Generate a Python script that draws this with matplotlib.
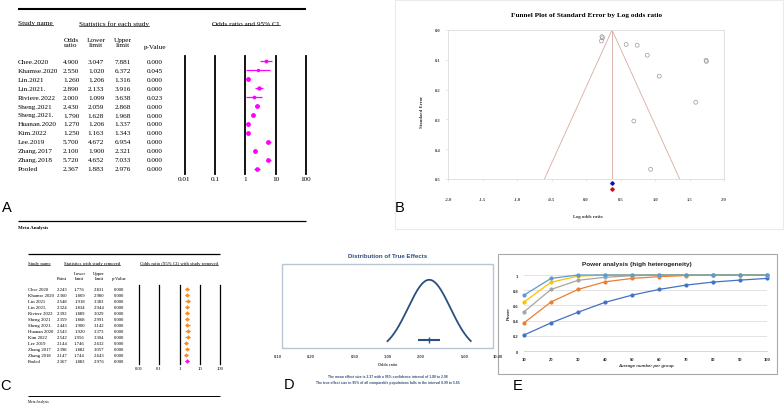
import numpy as np
import matplotlib
matplotlib.use('Agg')
import matplotlib.pyplot as plt
from matplotlib.patches import Rectangle
from matplotlib.ticker import NullLocator

W, H = 784, 406
SERIF = ['Liberation Serif', 'DejaVu Serif']
SANS = ['Liberation Sans', 'DejaVu Sans']

# ---------------- Data: panel A (forest plot) ----------------
studies = ["Chee.2020", "Khamse.2020", "Lin.2021", "Lin.2021.", "Riviere.2022", "Sheng.2021",
           "Sheng.2021.", "Huanan.2020", "Kim.2022", "Lee.2019", "Zhang.2017", "Zhang.2018", "Pooled"]
odds = [4.900, 2.550, 1.260, 2.890, 2.000, 2.430, 1.790, 1.270, 1.250, 5.700, 2.100, 5.720, 2.367]
lower = [3.047, 1.020, 1.206, 2.133, 1.099, 2.059, 1.628, 1.206, 1.163, 4.672, 1.900, 4.652, 1.883]
upper = [7.881, 6.372, 1.316, 3.916, 3.638, 2.868, 1.968, 1.337, 1.343, 6.954, 2.321, 7.033, 2.976]
pvals = ["0.000", "0.045", "0.000", "0.000", "0.023", "0.000", "0.000", "0.000", "0.000",
         "0.000", "0.000", "0.000", "0.000"]
forest_ticks = [0.01, 0.1, 1, 10, 100]
forest_tick_labels = ["0.01", "0.1", "1", "10", "100"]

# ---------------- Data: panel C (leave-one-out) ----------------
loo_studies = ["Chee 2020", "Khamse 2020", "Lin 2021", "Lin 2021.", "Riviere 2022", "Sheng 2021",
               "Sheng 2021.", "Huanan 2020", "Kim 2022", "Lee 2019", "Zhang 2017", "Zhang 2018", "Pooled"]
loo_point = [2.243, 2.360, 2.548, 2.324, 2.392, 2.359, 2.443, 2.543, 2.542, 2.144, 2.398, 2.147, 2.367]
loo_lower = [1.776, 1.869, 1.918, 1.834, 1.889, 1.868, 1.900, 1.920, 1.956, 1.746, 1.882, 1.744, 1.883]
loo_upper = [2.831, 2.980, 3.383, 2.944, 3.029, 2.991, 3.142, 3.373, 3.304, 2.632, 3.057, 2.643, 2.976]
loo_p = ["0.000"] * 13

# ---------------- Data: panel B (funnel) ----------------
funnel_xticks = [-2.0, -1.5, -1.0, -0.5, 0.0, 0.5, 1.0, 1.5, 2.0]
funnel_yticks = [0.0, 0.1, 0.2, 0.3, 0.4, 0.5]

# ---------------- Data: panel D (true effects) ----------------
mean_es = 2.37
ci_lo, ci_hi = 1.88, 2.98
pi_lo, pi_hi = 0.99, 5.65
d_ticks = [0.1, 0.2, 0.5, 1, 2, 5, 10]
d_tick_labels = ["0.10", "0.20", "0.50", "1.00", "2.00", "5.00", "10.00"]

# ---------------- Data: panel E (power) ----------------
n_group = [10, 20, 30, 40, 50, 60, 70, 80, 90, 100]
power_1 = [0.21, 0.37, 0.51, 0.64, 0.735, 0.81, 0.867, 0.907, 0.933, 0.955]
power_2 = [0.37, 0.645, 0.81, 0.91, 0.955, 0.978, 0.993, 1.0, 1.0, 1.0]
power_3 = [0.515, 0.81, 0.93, 0.97, 0.99, 1.0, 1.0, 1.0, 1.0, 1.0]
power_4 = [0.645, 0.905, 0.985, 1.0, 1.0, 1.0, 1.0, 1.0, 1.0, 1.0]
power_5 = [0.735, 0.955, 1.0, 1.0, 1.0, 1.0, 1.0, 1.0, 1.0, 1.0]
power_colors = ['#4472C4', '#ED7D31', '#A5A5A5', '#FFC000', '#5B9BD5']
e_yticks = [0, 0.2, 0.4, 0.6, 0.8, 1.0]
e_ytick_labels = ["0", "0.2", "0.4", "0.6", "0.8", "1"]

# =====================================================================
fig = plt.figure(figsize=(W / 100, H / 100), dpi=100)
fig.patch.set_facecolor('white')
lay = fig.add_axes([0, 0, 1, 1])
lay.set_xlim(0, W)
lay.set_ylim(H, 0)
lay.axis('off')


def pxax(x0, y0, x1, y1):
    ax = fig.add_axes([x0 / W, 1 - y1 / H, (x1 - x0) / W, (y1 - y0) / H])
    ax.patch.set_alpha(0)
    return ax


underlined = []

# ---------------------------- Panel A ----------------------------
fsA = 5.2
lay.plot([18, 306], [10, 10], color='black', lw=1.5, solid_capstyle='butt')
underlined.append(lay.text(18, 24, "Study name", fontsize=fsA, family=SERIF, va='center', ha='left'))
underlined.append(lay.text(114, 24, "Statistics for each study", fontsize=fsA, family=SERIF, va='center', ha='center'))
underlined.append(lay.text(246, 24, "Odds ratio and 95% CI", fontsize=fsA, family=SERIF, va='center', ha='center'))
colsA = [71, 96, 123, 155]
for cx, lab, yy in zip(colsA, ["Odds\nratio", "Lower\nlimit", "Upper\nlimit", "p-Value"], [43, 43, 43, 47]):
    lay.text(cx, yy, lab, fontsize=fsA, family=SERIF, va='center', ha='center')

yl_A = (12.556, -0.556)
tA = pxax(0, 57, 184.5, 175)
tA.set_xlim(0, 184.5)
tA.set_ylim(*yl_A)
tA.axis('off')
for i, name in enumerate(studies):
    tA.text(18, i, name, fontsize=fsA, family=SERIF, va='center', ha='left')
    tA.text(colsA[0], i, f"{odds[i]:.3f}", fontsize=fsA, family=SERIF, va='center', ha='center')
    tA.text(colsA[1], i, f"{lower[i]:.3f}", fontsize=fsA, family=SERIF, va='center', ha='center')
    tA.text(colsA[2], i, f"{upper[i]:.3f}", fontsize=fsA, family=SERIF, va='center', ha='center')
    tA.text(colsA[3], i, pvals[i], fontsize=fsA, family=SERIF, va='center', ha='center')

fA = pxax(184.5, 57, 306, 175)
fA.set_xscale('log')
fA.set_xlim(0.01, 100)
fA.set_ylim(*yl_A)
for t in forest_ticks:
    fA.axvline(t, color='black', lw=1.3, clip_on=False)
for s in fA.spines.values():
    s.set_visible(False)
fA.set_xticks(forest_ticks)
fA.set_xticklabels(forest_tick_labels, family=SERIF, fontsize=fsA)
fA.xaxis.set_minor_locator(NullLocator())
fA.tick_params(axis='x', length=0, pad=1.5)
fA.set_yticks([])
se_all = (np.log(upper) - np.log(lower)) / (2 * 1.96)
for i in range(len(studies)):
    ms = 1.6 + 1.9 * min(1.0, np.sqrt(0.1 / se_all[i]))
    fA.plot([lower[i], upper[i]], [i, i], color='#ff00ff', lw=0.9, solid_capstyle='butt')
    fA.plot(odds[i], i, 'o', color='#ff00ff', ms=ms, mec='#ff00ff', mew=0)

lay.text(7, 208, "A", fontsize=10.5, family=SANS, ha='center', va='center')
lay.plot([18, 306], [222, 222], color='black', lw=0.9, solid_capstyle='butt')
lay.text(18, 228, "Meta Analysis", fontsize=3.6, family=SERIF, fontweight='bold', ha='left', va='center')

# ---------------------------- Panel B ----------------------------
lay.add_patch(Rectangle((395, 0.5), 388.5, 229.5, fill=False, ec='#ebebeb', lw=0.8))
lay.text(587, 16, "Funnel Plot of Standard Error by Log odds ratio", fontsize=5.2, family=SERIF,
         fontweight='bold', ha='center', va='center')
axB = pxax(448, 31, 724, 180)
axB.set_xlim(-2, 2)
axB.set_ylim(0.5, 0)
for s in axB.spines.values():
    s.set_color('#dcdcdc')
    s.set_linewidth(0.6)
axB.set_xticks(funnel_xticks)
axB.set_xticklabels([f"{v:.1f}" for v in funnel_xticks], family=SERIF, fontsize=3.3, fontweight='bold', color='#444444')
axB.set_yticks(funnel_yticks)
axB.set_yticklabels([f"{v:.1f}" for v in funnel_yticks], family=SERIF, fontsize=3.3, fontweight='bold', color='#444444')
axB.tick_params(axis='x', length=1.2, width=0.4, color='#cccccc', pad=12)
axB.tick_params(axis='y', length=1.2, width=0.4, color='#cccccc', pad=4)
lnor = np.log(odds[:12])
se = se_all[:12]
w = 1 / se ** 2
fixed = float(np.sum(w * lnor) / np.sum(w))
fc = '#d9aaa2'
axB.plot([fixed - 1.96 * 0.5, fixed, fixed + 1.96 * 0.5], [0.5, 0, 0.5], color=fc, lw=0.6)
axB.plot([fixed, fixed], [0, 0.5], color=fc, lw=0.6)
axB.scatter(lnor, se, s=8, facecolors='none', edgecolors='#9a9a9a', linewidths=0.5, clip_on=False, zorder=3)
axB.plot(fixed, 0.513, 'D', color='#1010c0', ms=1.8, clip_on=False)
axB.plot(fixed, 0.534, 'D', color='#d01010', ms=1.8, clip_on=False)
lay.text(588, 217, "Log odds ratio", fontsize=3.4, family=SERIF, fontweight='bold', ha='center', va='center', color='#333333')
lay.text(422, 112, "Standard Error", fontsize=3.4, family=SERIF, fontweight='bold', ha='center', va='center',
         rotation=90, color='#333333')
lay.text(400, 208, "B", fontsize=10.5, family=SANS, ha='center', va='center')

# ---------------------------- Panel C ----------------------------
fsC = 3.4
lay.plot([28, 220], [255, 255], color='black', lw=0.9, solid_capstyle='butt')
underlined.append(lay.text(28, 264, "Study name", fontsize=fsC, family=SERIF, va='center', ha='left'))
underlined.append(lay.text(92, 264, "Statistics with study removed", fontsize=fsC, family=SERIF, va='center', ha='center'))
underlined.append(lay.text(179, 264, "Odds ratio (95% CI) with study removed", fontsize=fsC, family=SERIF, va='center', ha='center'))
colsC = [62, 79.5, 99, 119]
for cx, lab, yy in zip(colsC, ["Point", "Lower\nlimit", "Upper\nlimit", "p-Value"], [279, 276.5, 276.5, 279]):
    lay.text(cx, yy, lab, fontsize=fsC, family=SERIF, va='center', ha='center')

yl_C = (12.5, -0.667)
tC = pxax(0, 286, 139, 365)
tC.set_xlim(0, 139)
tC.set_ylim(*yl_C)
tC.axis('off')
for i, name in enumerate(loo_studies):
    tC.text(28, i, name, fontsize=fsC, family=SERIF, va='center', ha='left')
    tC.text(colsC[0], i, f"{loo_point[i]:.3f}", fontsize=fsC, family=SERIF, va='center', ha='center')
    tC.text(colsC[1], i, f"{loo_lower[i]:.3f}", fontsize=fsC, family=SERIF, va='center', ha='center')
    tC.text(colsC[2], i, f"{loo_upper[i]:.3f}", fontsize=fsC, family=SERIF, va='center', ha='center')
    tC.text(colsC[3], i, loo_p[i], fontsize=fsC, family=SERIF, va='center', ha='center')

fC = pxax(139, 286, 220, 365)
fC.set_xscale('log')
fC.set_xlim(0.01, 100)
fC.set_ylim(*yl_C)
for t in forest_ticks:
    fC.axvline(t, color='black', lw=0.9, clip_on=False)
for s in fC.spines.values():
    s.set_visible(False)
fC.set_xticks(forest_ticks)
fC.set_xticklabels(forest_tick_labels, family=SERIF, fontsize=fsC)
fC.xaxis.set_minor_locator(NullLocator())
fC.tick_params(axis='x', length=0, pad=1.8)
fC.set_yticks([])
for i in range(len(loo_studies)):
    col = '#ff00ff' if loo_studies[i] == "Pooled" else '#ff8a1c'
    fC.plot([loo_lower[i], loo_upper[i]], [i, i], color=col, lw=0.9, solid_capstyle='butt')
    fC.plot(loo_point[i], i, 'D', color=col, ms=2.3, mew=0)

lay.text(6, 386, "C", fontsize=10.5, family=SANS, ha='center', va='center')
lay.plot([28, 220], [397, 397], color='black', lw=0.7, solid_capstyle='butt')
lay.text(28, 402, "Meta Analysis", fontsize=2.6, family=SERIF, ha='left', va='center')

# ---------------------------- Panel D ----------------------------
dblue = '#2b4f7e'
lay.text(388, 256, "Distribution of True Effects", fontsize=4.4, family=SANS, fontweight='bold',
         color='#2f4d7c', ha='center', va='center')
lay.add_patch(Rectangle((282, 265), 211, 84, fill=False, ec='#b9c5d2', lw=1.0))
axD = pxax(278, 265, 498, 349)
axD.set_xscale('log')
axD.set_xlim(0.1, 10)
axD.set_ylim(0.05, 1.22)
for s in axD.spines.values():
    s.set_visible(False)
axD.set_xticks(d_ticks)
axD.set_xticklabels(d_tick_labels, family=SANS, fontsize=3.0, fontweight='bold', color='#3a4555')
axD.xaxis.set_minor_locator(NullLocator())
axD.tick_params(axis='x', length=0, pad=4.5)
axD.set_yticks([])
mu = np.log(mean_es)
sigma = (np.log(pi_hi) - np.log(pi_lo)) / (2 * 1.96)
xs = np.linspace(np.log(pi_lo), np.log(pi_hi), 200)
axD.plot(np.exp(xs), np.exp(-0.5 * ((xs - mu) / sigma) ** 2), color=dblue, lw=1.3)
axD.plot([ci_lo, ci_hi], [0.16, 0.16], color=dblue, lw=1.5, solid_capstyle='butt')
axD.plot(mean_es, 0.16, '|', color=dblue, ms=4, mew=1.0)
lay.text(388, 365, "Odds ratio", fontsize=2.8, family=SANS, fontweight='bold', color='#3a4555', ha='center', va='center')
lay.text(388, 377, f"The mean effect size is {mean_es:.2f} with a 95% confidence interval of {ci_lo:.2f} to {ci_hi:.2f}",
         fontsize=2.4, family=SANS, fontweight='bold', color='#2f4d7c', ha='center', va='center')
lay.text(388, 383.5, f"The true effect size in 95% of all comparable populations falls in the interval {pi_lo:.2f} to {pi_hi:.2f}",
         fontsize=2.4, family=SANS, fontweight='bold', color='#2f4d7c', ha='center', va='center')
lay.text(289, 385, "D", fontsize=10.5, family=SANS, ha='center', va='center')

# ---------------------------- Panel E ----------------------------
lay.add_patch(Rectangle((498, 255), 279, 120, fill=False, ec='#a9a9a9', lw=0.8))
lay.text(637, 265, "Power analysis (high heterogeneity)", fontsize=4.6, family=SANS, fontweight='bold',
         color='#222222', ha='center', va='center')
axE = pxax(524, 276, 767, 352)
axE.set_xlim(10, 100)
axE.set_ylim(0, 1)
for k in ['top', 'right', 'left']:
    axE.spines[k].set_visible(False)
axE.spines['bottom'].set_color('#d0d0d0')
axE.spines['bottom'].set_linewidth(0.6)
axE.set_yticks(e_yticks)
axE.set_yticklabels(e_ytick_labels, family=SANS, fontsize=3.0, fontweight='bold', color='#333333')
axE.set_xticks(n_group)
axE.set_xticklabels([str(v) for v in n_group], family=SANS, fontsize=3.0, fontweight='bold', color='#333333')
axE.tick_params(axis='both', length=0)
axE.tick_params(axis='x', pad=4)
axE.tick_params(axis='y', pad=4)
axE.grid(axis='y', color='#dedede', lw=0.6)
axE.set_axisbelow(True)
for series, col in zip([power_1, power_2, power_3, power_4, power_5], power_colors):
    axE.plot(n_group, series, color=col, lw=0.9, marker='o', ms=2.0, clip_on=False)
lay.text(646, 366, "Average number per group", fontsize=3.2, family=SANS, fontweight='bold', style='italic',
         color='#333333', ha='center', va='center')
lay.text(509, 314, "Power", fontsize=3.2, family=SANS, fontweight='bold', color='#333333',
         ha='center', va='center', rotation=90)
lay.text(518, 386, "E", fontsize=10.5, family=SANS, ha='center', va='center')

# ---------------------------- underlines ----------------------------
fig.canvas.draw()
inv = lay.transData.inverted()
for t in underlined:
    bb = t.get_window_extent()
    x0, y0 = inv.transform((bb.x0, bb.y0))
    x1, _ = inv.transform((bb.x1, bb.y0))
    lay.plot([x0, x1], [y0 - 0.3, y0 - 0.3], color='black', lw=0.45)

fig.savefig('out.png', dpi=100, facecolor='white')
